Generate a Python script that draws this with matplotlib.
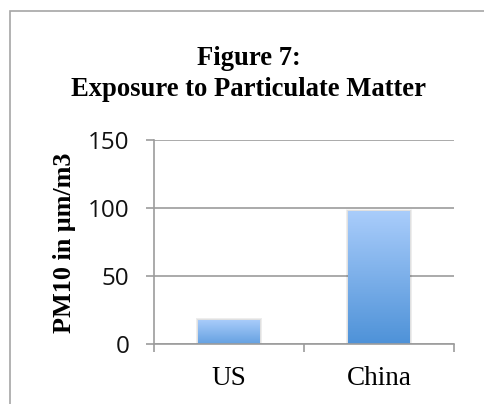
import numpy as np
import matplotlib
matplotlib.use("Agg")
import matplotlib.pyplot as plt
from matplotlib.colors import LinearSegmentedColormap
from matplotlib.patches import Rectangle

categories = ["US", "China"]
pm10 = [18, 98]
yticks = [0, 50, 100, 150]

title = "Figure 7:\nExposure to Particulate Matter"
ylabel = "PM10 in \u03bcm/m3"

W, H = 485, 404
fig = plt.figure(figsize=(W / 100, H / 100), dpi=100)
fig.patch.set_facecolor("white")

# outer chart frame (runs off the right and bottom edges)
frame = Rectangle((10 / W, -0.05), 1.2, 1 - 10.5 / H - (-0.05),
                  transform=fig.transFigure, fill=False,
                  edgecolor="#a6a6a6", linewidth=1.2)
fig.add_artist(frame)

ax = fig.add_axes([154 / W, 1 - 344 / H, 300 / W, 204 / H])
ax.set_xlim(0, 2)
ax.set_ylim(0, 150)

grid_c = "#9c9c9c"
for s in ["top", "right"]:
    ax.spines[s].set_visible(False)
for s in ["left", "bottom"]:
    ax.spines[s].set_color(grid_c)
    ax.spines[s].set_linewidth(1.2)

ax.set_yticks(yticks)
ax.yaxis.grid(True, color=grid_c, linewidth=1.2)
ax.set_axisbelow(True)
ax.tick_params(axis="y", direction="out", length=5.8, width=1.2, color=grid_c,
               pad=12, labelsize=17.5)
for lab in ax.get_yticklabels():
    lab.set_fontfamily("Open Sans")
    lab.set_color("#111111")

ax.set_xticks([0, 1, 2])
ax.set_xticklabels([])
ax.tick_params(axis="x", direction="out", length=5.8, width=1.2, color=grid_c)
ax.set_xticks([0.5, 1.5], minor=True)
ax.set_xticklabels(categories, minor=True, fontfamily="Liberation Serif",
                   fontsize=19.5)
ax.tick_params(axis="x", which="minor", length=0, pad=16)

cmap = LinearSegmentedColormap.from_list("barfill", ["#4e92d8", "#aacdfb"])
bar_w = 0.41
bars = ax.bar([0.5, 1.5], pm10, width=bar_w, color="none", edgecolor="none")
for b in bars:
    x0, w, h = b.get_x(), b.get_width(), b.get_height()
    # soft drop shadow
    for k, a in enumerate([0.05, 0.04, 0.03]):
        sh = Rectangle((x0 - 0.006 * (k + 1), 0), w + 0.012 * (k + 1),
                       h + 0.4 * (k + 1), facecolor="#000000", alpha=a,
                       edgecolor="none", zorder=1.5)
        ax.add_patch(sh)
    lo = 0.25 if h < 50 else 0.0
    g = np.linspace(lo, 1, 256).reshape(-1, 1)
    im = ax.imshow(g, cmap=cmap, vmin=0, vmax=1, aspect="auto",
                   extent=[x0, x0 + w, 0, h], origin="lower", zorder=2)
    clip = Rectangle((x0, 0), w, h, transform=ax.transData)
    im.set_clip_path(clip)

ax.set_xlim(0, 2)
ax.set_ylim(0, 150)

fig.text(249 / W, 1 - 74 / H, title, ha="center", va="center",
         fontfamily="Liberation Serif", fontweight="bold", fontsize=19.2,
         linespacing=1.3)
fig.text(65 / W, 1 - 243 / H, ylabel, ha="center", va="center",
         rotation=90, fontfamily="Liberation Serif", fontweight="bold",
         fontsize=18.8)

fig.savefig("out.png", dpi=100, facecolor="white")
